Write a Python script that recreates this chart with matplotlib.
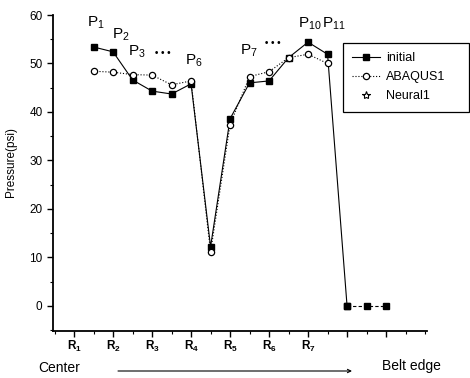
import matplotlib
matplotlib.use("Agg")
import matplotlib.pyplot as plt
from matplotlib.ticker import MultipleLocator

plt.rcParams['font.family'] = ['Liberation Sans', 'DejaVu Sans']
plt.rcParams['mathtext.fontset'] = 'custom'
plt.rcParams['mathtext.rm'] = 'Liberation Sans'
plt.rcParams['mathtext.it'] = 'Liberation Sans'
plt.rcParams['mathtext.bf'] = 'Liberation Sans:bold'

# ---- data ----
x_initial = [1.5, 2.0, 2.5, 3.0, 3.5, 4.0, 4.5, 5.0, 5.5, 6.0, 6.5, 7.0, 7.5, 8.0, 8.5, 9.0]
initial = [53.4, 52.4, 46.6, 44.3, 43.7, 45.8, 12.2, 38.6, 46.0, 46.4, 51.2, 54.4, 51.9, 0.0, 0.0, 0.0]
x_abaqus = [1.5, 2.0, 2.5, 3.0, 3.5, 4.0, 4.5, 5.0, 5.5, 6.0, 6.5, 7.0, 7.5]
abaqus1 = [48.4, 48.2, 47.7, 47.6, 45.6, 46.4, 11.1, 37.4, 47.3, 48.3, 51.2, 51.9, 50.0]
x_neural = []
neural1 = []
tick_pos = [1, 2, 3, 4, 5, 6, 7, 8, 9]
tick_labels = [r'$\mathbf{R_1}$', r'$\mathbf{R_2}$', r'$\mathbf{R_3}$', r'$\mathbf{R_4}$',
               r'$\mathbf{R_5}$', r'$\mathbf{R_6}$', r'$\mathbf{R_7}$', '', '']
annot_labels = [r'P$_1$', r'P$_2$', r'P$_3$', r'P$_6$', r'P$_7$', r'P$_{10}$', r'P$_{11}$']
annot_x = [1.33, 1.97, 2.38, 3.84, 5.25, 6.75, 7.37]
annot_y = [60.0, 57.7, 54.2, 52.2, 54.4, 59.8, 59.8]
dots_x = [3.28, 6.09]
dots_y = [52.2, 54.2]

fig = plt.figure(figsize=(4.7, 3.78), dpi=100)
ax = fig.add_axes([0.1128, 0.1243, 0.7957, 0.836])

ax.plot(x_initial[:-2], initial[:-2], color='black', lw=0.8, marker='s', ms=4.2,
        mfc='black', mec='black', label='initial', zorder=3)
ax.plot(x_initial[-3:], initial[-3:], color='black', lw=0.8, ls=(0, (3, 2)),
        marker='s', ms=4.2, mfc='black', mec='black', zorder=3)
ax.plot(x_abaqus, abaqus1, color='black', lw=0.8, ls=':', marker='o', ms=4.5,
        mfc='white', mec='black', mew=0.9, label='ABAQUS1', zorder=4)
ax.plot(x_neural, neural1, ls='none', marker='*', ms=6, mfc='white', mec='black',
        mew=0.8, label='Neural1')

ax.set_xlim(0.46, 10.05)
ax.set_ylim(-5.2, 60)
ax.spines['top'].set_visible(False)
ax.spines['right'].set_visible(False)
for s in ['left', 'bottom']:
    ax.spines[s].set_linewidth(1.3)

ax.yaxis.set_major_locator(MultipleLocator(10))
ax.yaxis.set_minor_locator(MultipleLocator(5))
ax.set_xticks(tick_pos)
ax.set_xticklabels(tick_labels, fontsize=8)
ax.xaxis.set_minor_locator(MultipleLocator(0.5))
ax.tick_params(axis='both', which='major', direction='out', length=4, width=1, labelsize=8.5)
ax.tick_params(axis='both', which='minor', direction='out', length=2.5, width=0.8)
ax.tick_params(axis='x', which='major', pad=2)

ax.set_ylabel('Pressure(psi)', fontsize=8.5)
ax.yaxis.set_label_coords(-0.095, 0.535)

for lab, xx, yy in zip(annot_labels, annot_x, annot_y):
    ax.text(xx, yy, lab, fontsize=11, ha='left', va='top')
for xx, yy in zip(dots_x, dots_y):
    ax.text(xx, yy, '• • •', fontsize=7, ha='center', va='center', fontweight='bold')

fig.text(38 / 470, 1 - 372 / 378, 'Center', fontsize=10, ha='left', va='baseline')
fig.text(382 / 470, 1 - 370 / 378, 'Belt edge', fontsize=10, ha='left', va='baseline')
ax.annotate('', xy=(352 / 470, 1 - 371 / 378), xytext=(118 / 470, 1 - 371 / 378),
            xycoords='figure fraction', textcoords='figure fraction',
            arrowprops=dict(arrowstyle='->', lw=0.8, color='black',
                            shrinkA=0, shrinkB=0, mutation_scale=6))

leg = ax.legend(loc='upper left', bbox_to_anchor=(343 / 470, 1 - 111 / 378, 126 / 470, 68 / 378),
                bbox_transform=fig.transFigure, mode='expand', borderaxespad=0,
                fancybox=False, edgecolor='black', fontsize=9, handlelength=2.2,
                handletextpad=0.5, borderpad=0.75, labelspacing=0.55, framealpha=1)
leg.get_frame().set_linewidth(0.9)

fig.savefig('out.png', dpi=100)
